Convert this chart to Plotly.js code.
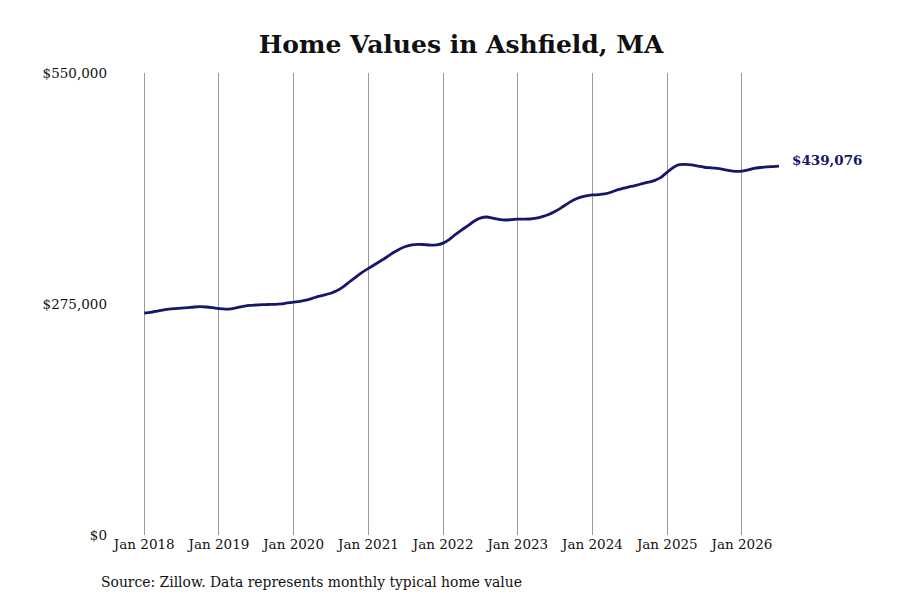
<!DOCTYPE html>
<html>
<head>
<meta charset="utf-8">
<script src="https://cdn.plot.ly/plotly-3.0.1.min.js"></script>
<style>
  html, body { margin: 0; padding: 0; background: #fff; }
  #chart { width: 900px; height: 600px; }
</style>
</head>
<body>
<div id="chart"></div>
<script>
// monthly typical home value, Jan 2018 .. Jul 2026 (thousands of $)
var start_year = 2018;
var values_k = [
	264.3, 265.0, 266.3, 267.8, 269.0, 269.6, 270.0, 270.6, 271.4, 271.8, 271.4, 270.6,
	269.6, 269.0, 269.3, 270.8, 272.3, 273.4, 273.8, 274.2, 274.4, 274.6, 275.2, 276.3,
	277.2, 278.2, 279.5, 281.8, 284.0, 285.8, 287.8, 291.0, 295.8, 301.5, 307.2, 312.6,
	317.4, 322.0, 326.2, 331.0, 336.0, 340.3, 343.5, 345.5, 346.1, 345.7, 345.2, 345.3,
	347.5, 352.0, 357.5, 363.0, 368.0, 373.5, 377.2, 378.6, 377.3, 375.8, 375.0, 375.4,
	376.0, 376.0, 376.2, 377.2, 379.0, 381.5, 385.0, 389.5, 394.5, 398.8, 402.0, 403.8,
	404.8, 405.2, 406.0, 408.0, 410.8, 413.0, 414.6, 416.3, 418.2, 420.0, 422.2, 425.8,
	432.0, 437.8, 440.8, 441.3, 440.5, 439.2, 437.8, 437.2, 436.5, 435.3, 433.8, 433.0,
	433.3, 434.6, 436.5, 437.5, 438.2, 438.6, 439.076
];
var y_ticks = [0, 275000, 550000];
var y_tick_labels = ["$0", "$275,000", "$550,000"];
var chart_title = "Home Values in Ashfield, MA";
var source_note = "Source: Zillow. Data represents monthly typical home value";

var line_color = "#16166b";
var font_family = "DejaVu Serif, serif";

var dates = [];
var values = [];
for (var i = 0; i < values_k.length; i++)
{
	var yr = start_year + Math.floor(i / 12);
	var mo = (i % 12) + 1;
	dates.push(yr + "-" + (mo < 10 ? "0" + mo : mo) + "-01");
	values.push(Math.round(values_k[i] * 1000));
}
var last = values.length - 1;

function money(v)
{
	return "$" + v.toLocaleString("en-US");
}

var trace =
{
	type: "scatter",
	mode: "lines",
	x: dates,
	y: values,
	line: {color: line_color, width: 2.8, shape: "spline", smoothing: 0.6},
	hoverinfo: "x+y"
};

var layout =
{
	width: 900,
	height: 600,
	paper_bgcolor: "#ffffff",
	plot_bgcolor: "#ffffff",
	showlegend: false,
	margin: {l: 141, r: 121, t: 73, b: 65},
	font: {family: font_family, size: 13.5, color: "#111111"},
	title: {
		text: "<b>" + chart_title + "</b>",
		font: {family: font_family, size: 25, color: "#111111"},
		xref: "container",
		x: 461 / 900,
		xanchor: "center",
		yref: "container",
		y: 1 - 44 / 600,
		yanchor: "middle"
	},
	xaxis: {
		type: "date",
		// start a little early so the Jan 2018 gridline is drawn
		range: ["2017-12-16", dates[last]],
		tick0: dates[0],
		dtick: "M12",
		tickformat: "%b %Y",
		showgrid: true,
		gridcolor: "#9a9a9a",
		gridwidth: 1,
		zeroline: false,
		showline: false,
		ticks: "",
		ticklabelstandoff: -1,
		tickfont: {family: font_family, size: 13.5, color: "#111111"},
		fixedrange: true
	},
	yaxis: {
		range: [0, 550000],
		tickvals: y_ticks,
		ticktext: y_tick_labels,
		showgrid: false,
		zeroline: false,
		showline: false,
		ticks: "",
		ticklabelstandoff: 33,
		tickfont: {family: font_family, size: 13.5, color: "#111111"},
		fixedrange: true
	},
	annotations: [
		{
			xref: "x",
			yref: "y",
			x: dates[last],
			y: values[last],
			text: "<b>" + money(values[last]) + "</b>",
			showarrow: false,
			xanchor: "left",
			yanchor: "middle",
			xshift: 11,
			yshift: 6,
			font: {family: font_family, size: 13.5, color: line_color}
		},
		{
			xref: "paper",
			yref: "paper",
			x: (99 - 141) / 638,
			y: (535 - 582) / 462,
			text: source_note,
			showarrow: false,
			xanchor: "left",
			yanchor: "middle",
			font: {family: font_family, size: 13.9, color: "#111111"}
		}
	]
};

Plotly.newPlot("chart", [trace], layout, {displayModeBar: false, staticPlot: true});
</script>
</body>
</html>
